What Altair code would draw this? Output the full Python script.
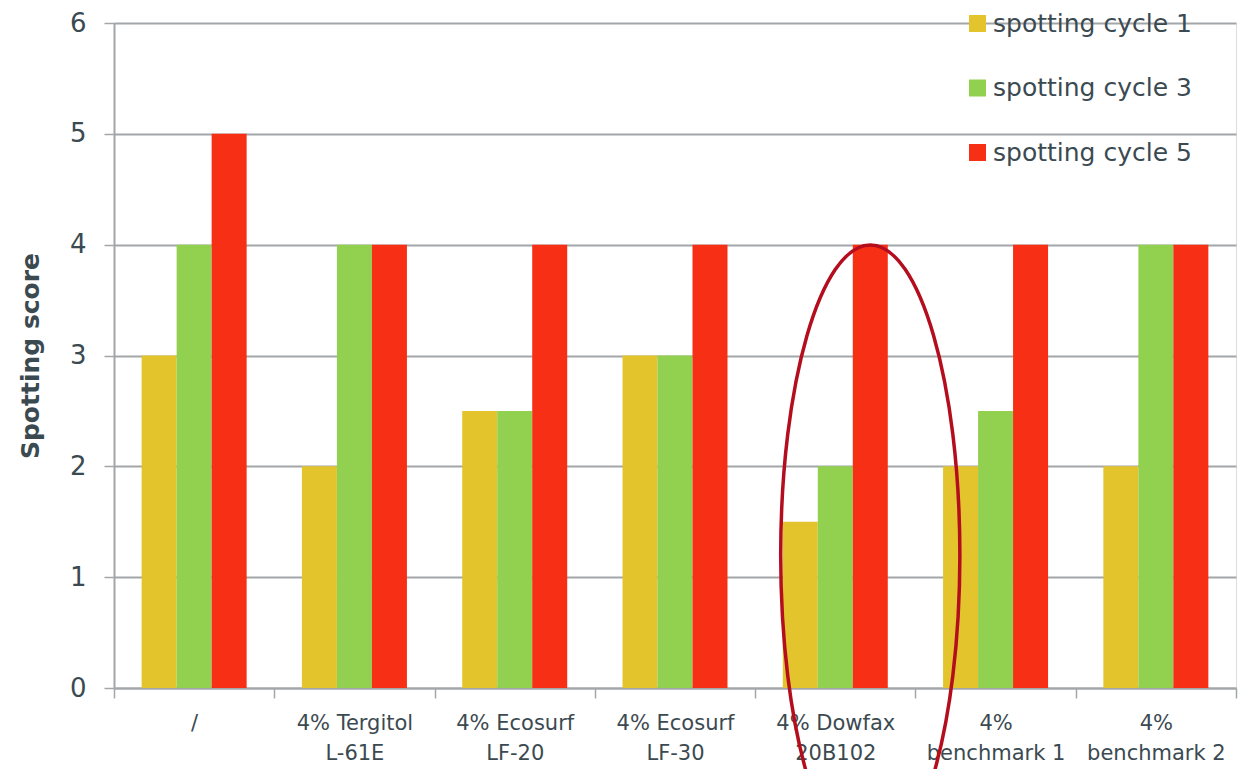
import altair as alt
import pandas as pd

categories = ["/", "4% Tergitol|L-61E", "4% Ecosurf|LF-20", "4% Ecosurf|LF-30",
              "4% Dowfax|20B102", "4%|benchmark 1", "4%|benchmark 2"]
series = ["spotting cycle 1", "spotting cycle 3", "spotting cycle 5"]
cycle1 = [3, 2, 2.5, 3, 1.5, 2, 2]
cycle3 = [4, 4, 2.5, 3, 2, 2.5, 4]
cycle5 = [5, 4, 4, 4, 4, 4, 4]
colors = ["#E4C42D", "#92D050", "#F72F14"]
y_ticks = [0, 1, 2, 3, 4, 5, 6]

# highlight ellipse annotation (around the Dowfax cycle-5 bar)
ellipse_cat = ["4% Dowfax|20B102"]
ellipse_series = ["spotting cycle 5"]
ellipse_center_y = [1.2]

rows = []
for s, vals in zip(series, [cycle1, cycle3, cycle5]):
    for c, v in zip(categories, vals):
        rows.append({"cat": c, "series": s, "score": v})
df = pd.DataFrame(rows)
edf = pd.DataFrame({"cat": ellipse_cat, "series": ellipse_series, "score": ellipse_center_y})

FONT = "DejaVu Sans"
TXT = "#3B4A51"
GRAY = "#A3A6A8"

x_enc = alt.X("cat:N", sort=categories, title=None,
              scale=alt.Scale(paddingInner=0, paddingOuter=0),
              axis=alt.Axis(labelExpr="split(datum.label, '|')", labelAngle=0,
                            tickBand="extent", tickSize=10, tickColor=GRAY, tickWidth=1.5,
                            domainColor=GRAY, domainWidth=2, labelFontSize=21,
                            labelLineHeight=30, labelPadding=14, labelColor=TXT,
                            labelFont=FONT, grid=False, labelLimit=200))
xoff = alt.XOffset("series:N", sort=series,
                   scale=alt.Scale(paddingInner=0, paddingOuter=0.79))

y_enc = alt.Y("score:Q", title="Spotting score",
              scale=alt.Scale(domain=[0, 6], nice=False),
              axis=alt.Axis(values=y_ticks, format="d", tickSize=10, tickColor=GRAY,
                            tickWidth=1.5, domainColor=GRAY, domainWidth=2,
                            gridColor=GRAY, gridWidth=2, labelFontSize=26,
                            labelColor=TXT, labelFont=FONT, labelPadding=18,
                            titleFont=FONT, titleFontSize=25, titleFontWeight="bold",
                            titleColor=TXT, titlePadding=26))

bars = alt.Chart(df).mark_bar().encode(
    x=x_enc, xOffset=xoff, y=y_enc,
    color=alt.Color("series:N", sort=series,
                    scale=alt.Scale(domain=series, range=colors),
                    legend=alt.Legend(title=None, orient="none", legendX=851, legendY=-12,
                                      symbolType="square", symbolSize=289,
                                      symbolStrokeWidth=0, labelFontSize=25,
                                      labelFont=FONT, labelColor=TXT, rowPadding=38.5,
                                      labelOffset=3, labelLimit=300)),
)

ellipse_path = "M -0.289 0 A 0.289 1 0 1 0 0.289 0 A 0.289 1 0 1 0 -0.289 0 Z"
ell = alt.Chart(edf).mark_point(shape=ellipse_path, filled=False, size=384400,
                                stroke="#B40D1E", strokeWidth=3.5, opacity=1).encode(
    x=alt.X("cat:N", sort=categories),
    xOffset=alt.XOffset("series:N", sort=series),
    y=alt.Y("score:Q"),
)

chart = alt.layer(bars, ell).properties(
    width=1122, height=665,
    autosize=alt.AutoSizeParams(type="none"),
    padding={"left": 114, "top": 23, "right": 4, "bottom": 81},
).configure_view(stroke=None).configure(background="white")

chart.save("out.html", embed_options={"renderer": "svg", "actions": False})
